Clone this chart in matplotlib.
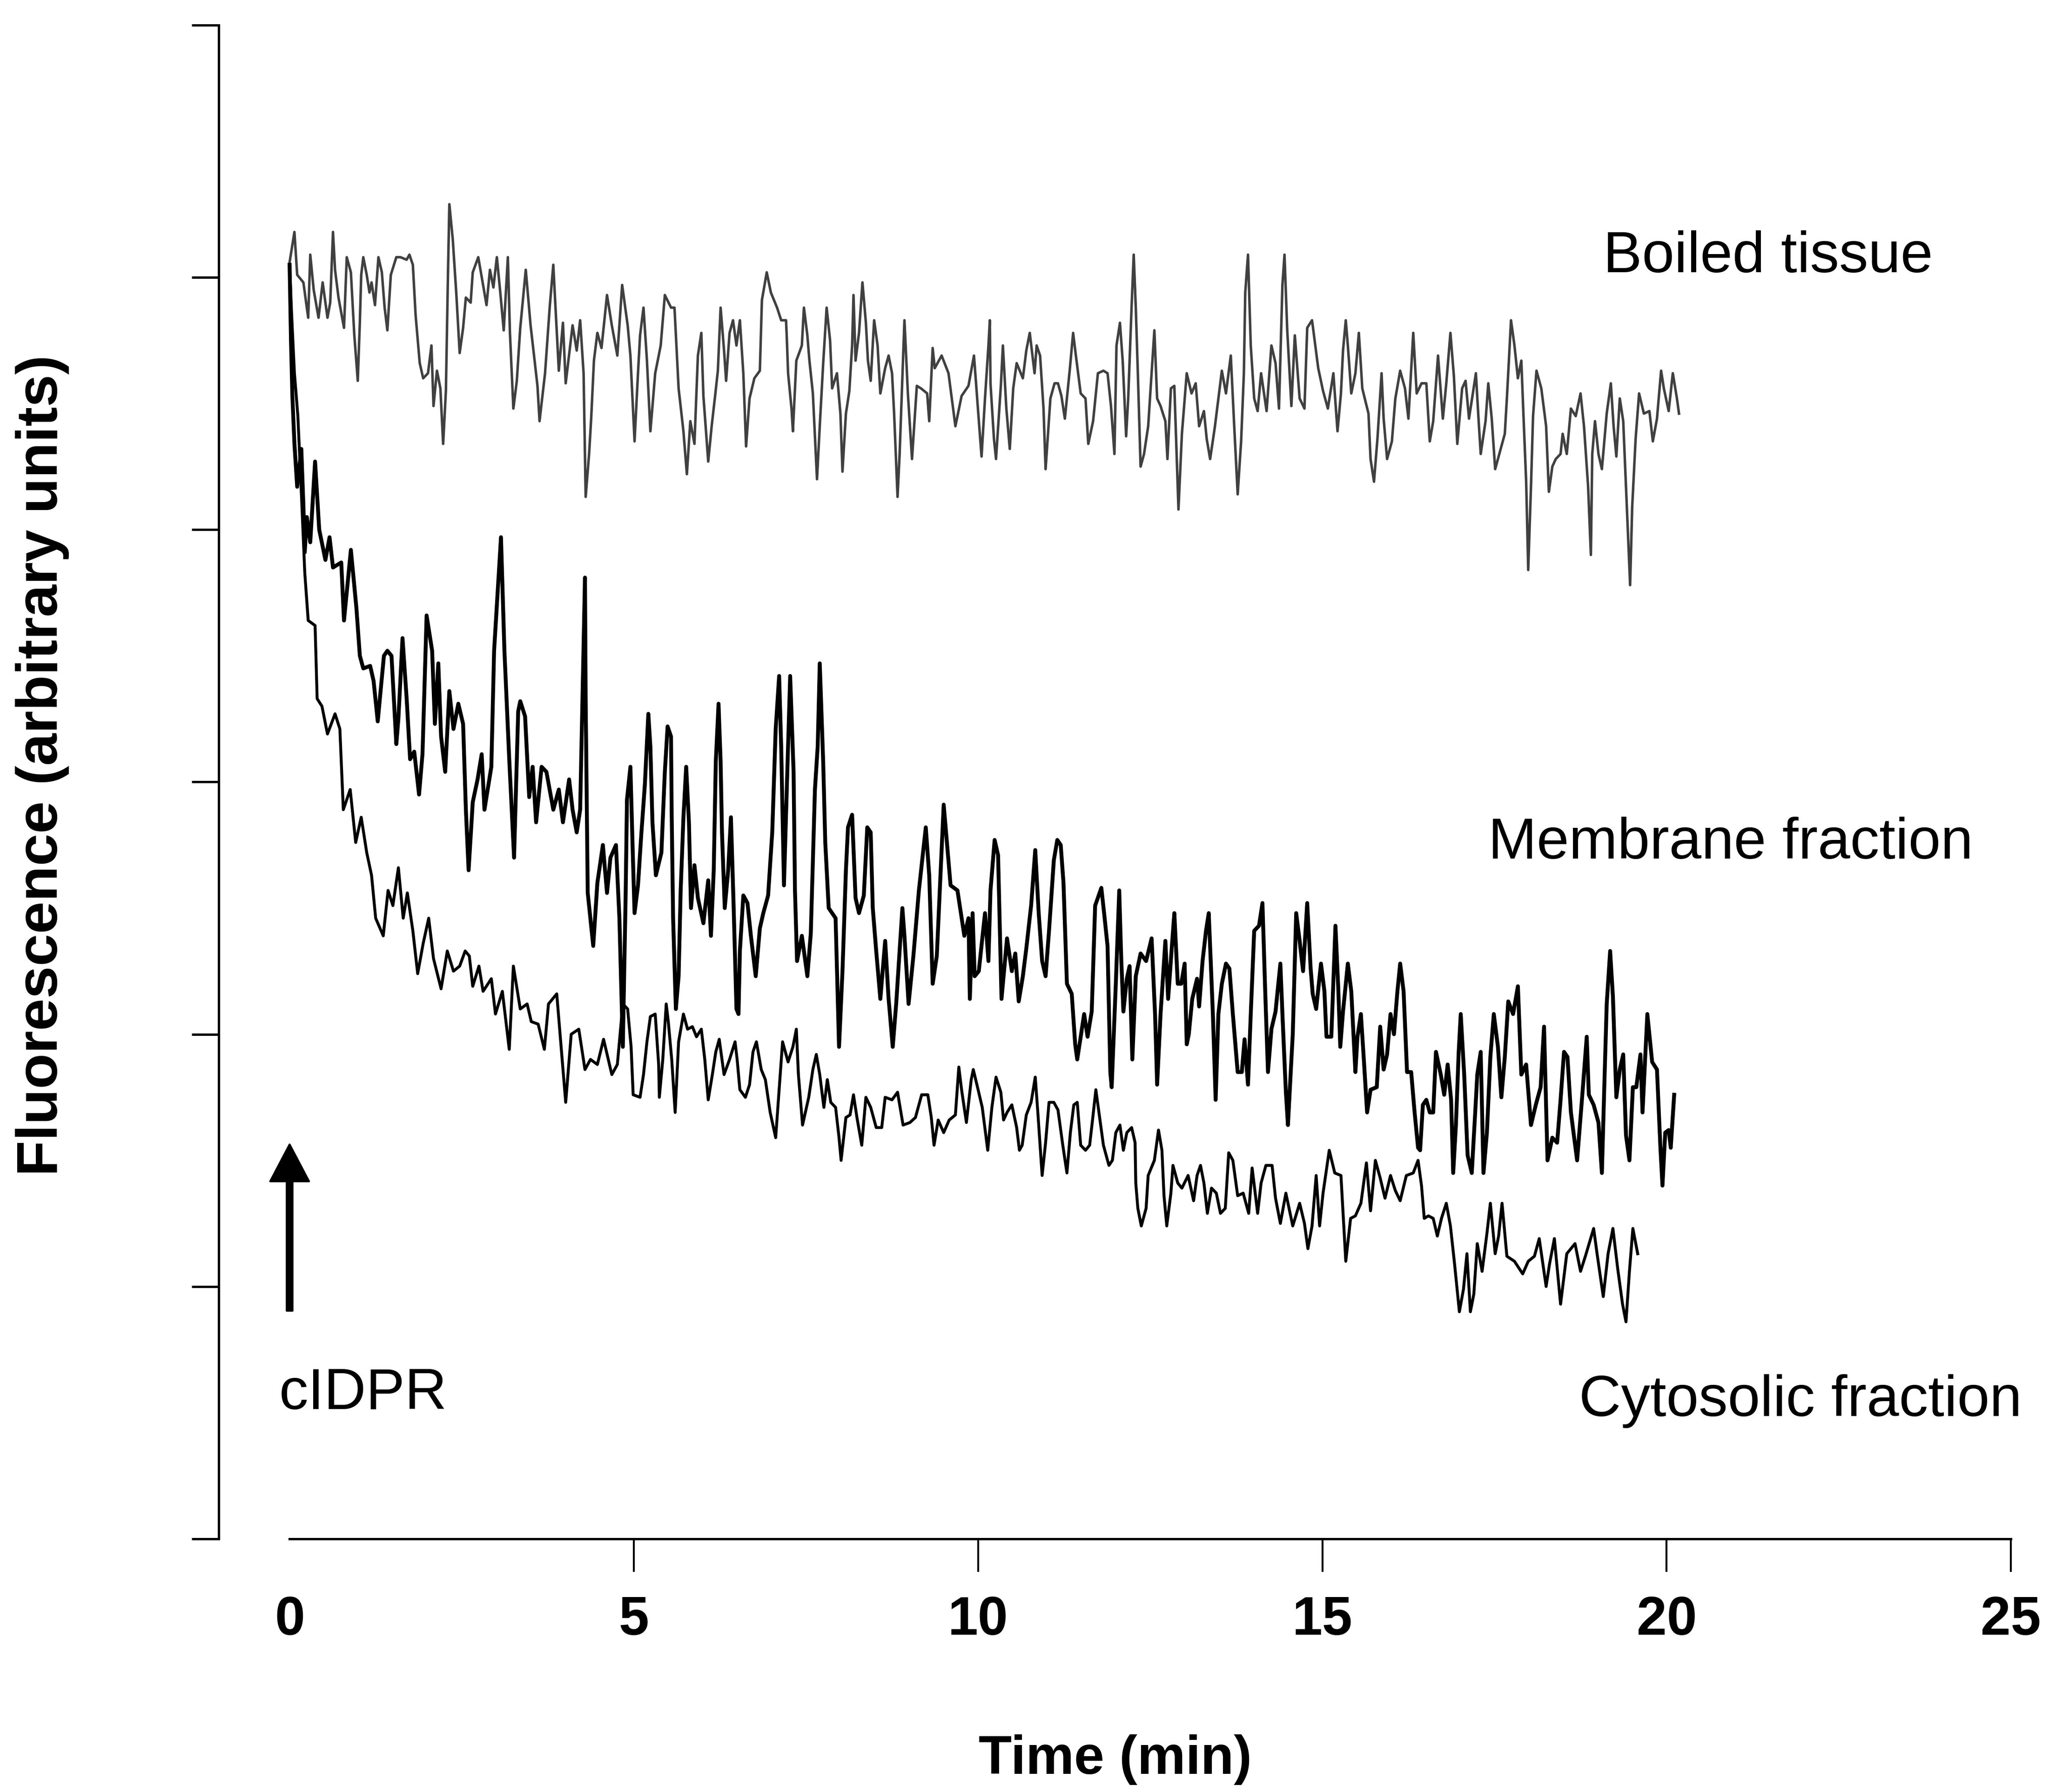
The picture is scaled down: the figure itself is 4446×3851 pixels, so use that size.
import numpy as np
import matplotlib.pyplot as plt

plt.rcParams['font.family'] = ['Liberation Sans', 'DejaVu Sans']

# traces: (time in min, fluorescence in arbitrary units)
boiled_tissue = np.array([
    (0.00, 5.06), (0.07, 5.18), (0.11, 5.01), (0.20, 4.98), (0.27, 4.84), (0.30, 5.09), (0.35, 4.95),
    (0.42, 4.84), (0.48, 4.98), (0.55, 4.84), (0.59, 4.90), (0.63, 5.18), (0.66, 5.03), (0.71, 4.92),
    (0.79, 4.80), (0.83, 5.08), (0.89, 5.02), (0.94, 4.77), (0.99, 4.59), (1.02, 4.82), (1.04, 5.01),
    (1.07, 5.08), (1.12, 5.01), (1.16, 4.94), (1.19, 4.98), (1.24, 4.89), (1.29, 5.08), (1.34, 5.02),
    (1.38, 4.88), (1.42, 4.79), (1.47, 5.01), (1.55, 5.08), (1.61, 5.08), (1.70, 5.07), (1.74, 5.09),
    (1.79, 5.05), (1.83, 4.85), (1.89, 4.66), (1.94, 4.60), (2.01, 4.62), (2.06, 4.73), (2.09, 4.49),
    (2.14, 4.63), (2.19, 4.56), (2.23, 4.34), (2.27, 4.55), (2.30, 5.01), (2.32, 5.29), (2.37, 5.15),
    (2.42, 4.94), (2.47, 4.70), (2.52, 4.80), (2.56, 4.92), (2.63, 4.90), (2.66, 5.02), (2.74, 5.08),
    (2.81, 4.97), (2.86, 4.89), (2.91, 5.03), (2.96, 4.96), (3.01, 5.08), (3.06, 4.94), (3.11, 4.79),
    (3.17, 5.08), (3.20, 4.78), (3.25, 4.48), (3.30, 4.59), (3.35, 4.80), (3.43, 5.03), (3.50, 4.81),
    (3.55, 4.69), (3.60, 4.57), (3.63, 4.43), (3.71, 4.62), (3.78, 4.89), (3.83, 5.05), (3.86, 4.89),
    (3.91, 4.63), (3.97, 4.82), (4.01, 4.58), (4.11, 4.81), (4.17, 4.71), (4.22, 4.83), (4.27, 4.62),
    (4.30, 4.13), (4.35, 4.30), (4.38, 4.44), (4.42, 4.67), (4.47, 4.78), (4.53, 4.72), (4.61, 4.93),
    (4.68, 4.81), (4.76, 4.69), (4.83, 4.97), (4.91, 4.81),
    (4.95, 4.69), (5.01, 4.35), (5.06, 4.62), (5.09, 4.77), (5.14, 4.88), (5.19, 4.67), (5.24, 4.39),
    (5.31, 4.62), (5.39, 4.73), (5.45, 4.93), (5.54, 4.88), (5.59, 4.88), (5.62, 4.72), (5.65, 4.56),
    (5.72, 4.39), (5.77, 4.22), (5.82, 4.43), (5.88, 4.34), (5.93, 4.69), (5.98, 4.78), (6.01, 4.53),
    (6.08, 4.27), (6.13, 4.41), (6.18, 4.53), (6.22, 4.63), (6.26, 4.88), (6.31, 4.71), (6.34, 4.59),
    (6.39, 4.78), (6.44, 4.83), (6.49, 4.73), (6.54, 4.83), (6.59, 4.62), (6.63, 4.33), (6.68, 4.52),
    (6.75, 4.60), (6.83, 4.63), (6.86, 4.91), (6.93, 5.02), (6.99, 4.94), (7.08, 4.88), (7.14, 4.83),
    (7.21, 4.83), (7.22, 4.77), (7.24, 4.62), (7.29, 4.48), (7.31, 4.39), (7.36, 4.67), (7.44, 4.73),
    (7.47, 4.88), (7.52, 4.77), (7.55, 4.67), (7.60, 4.54), (7.66, 4.20), (7.70, 4.41), (7.75, 4.66),
    (7.80, 4.88), (7.85, 4.75), (7.88, 4.56), (7.95, 4.62), (8.00, 4.46), (8.03, 4.23), (8.08, 4.46),
    (8.13, 4.55), (8.17, 4.73), (8.19, 4.93), (8.22, 4.67), (8.27, 4.78), (8.32, 4.98), (8.37, 4.82),
    (8.40, 4.67), (8.44, 4.59), (8.49, 4.83), (8.54, 4.73), (8.58, 4.54), (8.65, 4.64), (8.70, 4.69),
    (8.75, 4.62), (8.78, 4.46), (8.83, 4.13), (8.86, 4.30), (8.90, 4.60), (8.93, 4.83), (8.98, 4.54),
    (9.04, 4.28), (9.11, 4.57), (9.17, 4.56), (9.26, 4.54), (9.29, 4.43), (9.34, 4.72), (9.37, 4.64),
    (9.47, 4.69), (9.57, 4.62), (9.67, 4.41), (9.76, 4.53), (9.86, 4.57), (9.94, 4.69),
    (10.00, 4.47), (10.05, 4.29), (10.10, 4.52), (10.15, 4.73), (10.17, 4.83), (10.18, 4.58), (10.23, 4.36),
    (10.26, 4.28), (10.33, 4.57), (10.36, 4.73), (10.41, 4.48), (10.46, 4.32), (10.51, 4.56), (10.56, 4.66),
    (10.65, 4.60), (10.70, 4.71), (10.75, 4.78), (10.82, 4.62), (10.85, 4.73), (10.90, 4.69), (10.95, 4.48),
    (10.98, 4.24), (11.05, 4.52), (11.11, 4.58), (11.16, 4.58), (11.21, 4.53), (11.26, 4.44), (11.33, 4.63),
    (11.38, 4.78), (11.42, 4.69), (11.49, 4.54), (11.56, 4.52), (11.60, 4.34), (11.67, 4.43), (11.74, 4.62),
    (11.82, 4.63), (11.88, 4.62), (11.93, 4.49), (11.98, 4.30), (12.01, 4.73), (12.06, 4.82), (12.10, 4.67),
    (12.15, 4.37), (12.18, 4.52), (12.23, 4.89), (12.26, 5.09), (12.29, 4.88), (12.32, 4.62), (12.36, 4.25),
    (12.41, 4.30), (12.47, 4.41), (12.52, 4.62), (12.56, 4.79), (12.60, 4.52), (12.65, 4.49), (12.72, 4.43),
    (12.75, 4.28), (12.80, 4.56), (12.85, 4.57), (12.91, 4.08), (12.96, 4.38), (13.03, 4.62), (13.10, 4.54),
    (13.16, 4.58), (13.21, 4.41), (13.28, 4.47), (13.32, 4.36), (13.37, 4.28), (13.44, 4.41), (13.49, 4.52),
    (13.54, 4.63), (13.60, 4.54), (13.67, 4.69), (13.72, 4.41), (13.77, 4.14), (13.82, 4.35), (13.86, 4.62),
    (13.88, 4.94), (13.92, 5.09), (13.96, 4.73), (14.01, 4.52), (14.06, 4.47), (14.11, 4.62), (14.19, 4.47),
    (14.26, 4.73), (14.32, 4.66), (14.37, 4.48), (14.42, 4.97), (14.45, 5.09), (14.49, 4.79), (14.55, 4.49),
    (14.60, 4.77), (14.67, 4.52), (14.74, 4.48), (14.78, 4.80), (14.85, 4.83),
    (14.94, 4.64), (15.01, 4.55), (15.08, 4.48), (15.16, 4.62), (15.22, 4.39), (15.27, 4.54), (15.30, 4.71),
    (15.34, 4.83), (15.37, 4.73), (15.42, 4.54), (15.48, 4.62), (15.53, 4.78), (15.58, 4.56), (15.67, 4.46),
    (15.70, 4.28), (15.75, 4.19), (15.80, 4.36), (15.86, 4.62), (15.89, 4.44), (15.94, 4.28), (16.01, 4.35),
    (16.06, 4.52), (16.13, 4.63), (16.20, 4.56), (16.25, 4.44), (16.32, 4.78), (16.37, 4.54), (16.44, 4.58),
    (16.51, 4.58), (16.56, 4.35), (16.61, 4.43), (16.68, 4.69), (16.75, 4.44), (16.80, 4.58), (16.86, 4.78),
    (16.91, 4.61), (16.96, 4.34), (17.03, 4.56), (17.08, 4.59), (17.13, 4.44), (17.23, 4.62), (17.27, 4.43),
    (17.30, 4.30), (17.37, 4.43), (17.41, 4.58), (17.46, 4.44), (17.51, 4.24), (17.58, 4.31), (17.65, 4.38),
    (17.68, 4.52), (17.74, 4.83), (17.79, 4.73), (17.84, 4.60), (17.89, 4.67), (17.92, 4.46), (17.96, 4.19),
    (17.99, 3.84), (18.03, 4.17), (18.06, 4.45), (18.11, 4.63), (18.18, 4.56), (18.25, 4.41), (18.29, 4.15),
    (18.34, 4.25), (18.39, 4.28), (18.46, 4.30), (18.49, 4.38), (18.55, 4.30), (18.61, 4.48), (18.68, 4.45),
    (18.75, 4.54), (18.80, 4.41), (18.86, 4.17), (18.90, 3.90), (18.92, 4.30), (18.96, 4.43), (19.01, 4.30),
    (19.06, 4.24), (19.13, 4.46), (19.19, 4.58), (19.23, 4.41), (19.27, 4.29), (19.32, 4.52), (19.37, 4.43),
    (19.43, 4.04), (19.47, 3.78), (19.50, 4.09), (19.55, 4.36), (19.60, 4.54), (19.67, 4.46), (19.75, 4.47),
    (19.80, 4.35), (19.86, 4.44), (19.92, 4.63), (19.96, 4.56), (20.03, 4.47), (20.09, 4.62), (20.15, 4.52),
    (20.18, 4.46),
])

membrane_fraction = np.array([
    (0.00, 5.05), (0.02, 4.75), (0.04, 4.53), (0.07, 4.34), (0.11, 4.17), (0.17, 4.32), (0.20, 4.10),
    (0.22, 3.91), (0.25, 4.05), (0.30, 3.95), (0.37, 4.27), (0.43, 4.00), (0.52, 3.88), (0.58, 3.97),
    (0.63, 3.85), (0.75, 3.87), (0.79, 3.64), (0.89, 3.92), (0.97, 3.69), (1.02, 3.50), (1.07, 3.45),
    (1.17, 3.46), (1.22, 3.40), (1.28, 3.24), (1.37, 3.50), (1.42, 3.52), (1.48, 3.50), (1.55, 3.15),
    (1.58, 3.25), (1.64, 3.57), (1.70, 3.33), (1.75, 3.09), (1.81, 3.12), (1.88, 2.95), (1.93, 3.11),
    (1.99, 3.66), (2.07, 3.52), (2.11, 3.23), (2.16, 3.47), (2.20, 3.18), (2.26, 3.04), (2.32, 3.36),
    (2.38, 3.21), (2.45, 3.31), (2.52, 3.23), (2.56, 2.89), (2.60, 2.65), (2.66, 2.92), (2.73, 3.01),
    (2.79, 3.11), (2.83, 2.89), (2.93, 3.06), (2.97, 3.52), (3.07, 3.97), (3.12, 3.52), (3.19, 3.09),
    (3.26, 2.70), (3.32, 3.28), (3.35, 3.32), (3.42, 3.26), (3.48, 2.94), (3.53, 3.06), (3.58, 2.84),
    (3.66, 3.06), (3.73, 3.04), (3.83, 2.89), (3.91, 2.97), (3.97, 2.84), (4.06, 3.01), (4.11, 2.89),
    (4.17, 2.80), (4.22, 2.89), (4.29, 3.81), (4.30, 3.33), (4.33, 2.56), (4.41, 2.35), (4.47, 2.60),
    (4.55, 2.75), (4.61, 2.56), (4.66, 2.70), (4.74, 2.75), (4.79, 2.46), (4.84, 1.95),
    (4.88, 2.54), (4.90, 2.93), (4.95, 3.06), (4.98, 2.76), (5.01, 2.48), (5.06, 2.59), (5.11, 2.80),
    (5.16, 2.99), (5.21, 3.27), (5.24, 3.14), (5.27, 2.84), (5.32, 2.63), (5.40, 2.72), (5.45, 3.04),
    (5.49, 3.22), (5.54, 3.18), (5.55, 2.86), (5.57, 2.46), (5.61, 2.10), (5.65, 2.23), (5.68, 2.57),
    (5.72, 2.86), (5.76, 3.06), (5.80, 2.84), (5.83, 2.50), (5.88, 2.67), (5.93, 2.54), (6.01, 2.44),
    (6.08, 2.61), (6.12, 2.39), (6.16, 2.65), (6.19, 3.08), (6.23, 3.31), (6.26, 3.08), (6.28, 2.80),
    (6.32, 2.50), (6.37, 2.65), (6.41, 2.86), (6.45, 2.50), (6.49, 2.10), (6.52, 2.08), (6.54, 2.33),
    (6.59, 2.55), (6.65, 2.52), (6.70, 2.39), (6.77, 2.23), (6.83, 2.42), (6.88, 2.48), (6.95, 2.55),
    (7.01, 2.80), (7.06, 3.21), (7.11, 3.42), (7.14, 3.14), (7.18, 2.59), (7.24, 3.14), (7.27, 3.42),
    (7.32, 3.04), (7.34, 2.57), (7.37, 2.29), (7.44, 2.39), (7.52, 2.23), (7.57, 2.40), (7.63, 2.97),
    (7.67, 3.14), (7.70, 3.47), (7.75, 3.08), (7.78, 2.76), (7.83, 2.50), (7.93, 2.46), (7.98, 1.95),
    (8.03, 2.25), (8.08, 2.65), (8.11, 2.82), (8.17, 2.87), (8.22, 2.54), (8.27, 2.48), (8.34, 2.55),
    (8.39, 2.82), (8.44, 2.80), (8.47, 2.50), (8.52, 2.33), (8.58, 2.14), (8.65, 2.37), (8.70, 2.14),
    (8.76, 1.95), (8.81, 2.12), (8.90, 2.50), (8.93, 2.39), (8.99, 2.12), (9.06, 2.31), (9.14, 2.57),
    (9.24, 2.82), (9.29, 2.63), (9.34, 2.20), (9.40, 2.31), (9.50, 2.91), (9.60, 2.59), (9.70, 2.57),
    (9.80, 2.39), (9.86, 2.46),
    (9.88, 2.14), (9.92, 2.48), (9.95, 2.23), (10.01, 2.25), (10.10, 2.48), (10.15, 2.29), (10.18, 2.57),
    (10.24, 2.77), (10.29, 2.71), (10.34, 2.14), (10.38, 2.26), (10.42, 2.38), (10.49, 2.25), (10.54, 2.32),
    (10.59, 2.13), (10.65, 2.23), (10.70, 2.34), (10.77, 2.51), (10.83, 2.73), (10.88, 2.48), (10.93, 2.29),
    (10.98, 2.23), (11.03, 2.41), (11.10, 2.69), (11.15, 2.77), (11.20, 2.75), (11.24, 2.60), (11.29, 2.20),
    (11.36, 2.16), (11.41, 1.96), (11.44, 1.90), (11.49, 1.99), (11.54, 2.08), (11.59, 1.99), (11.65, 2.09),
    (11.70, 2.51), (11.79, 2.58), (11.83, 2.48), (11.88, 2.35), (11.92, 1.85), (11.94, 1.79), (12.00, 2.20),
    (12.05, 2.57), (12.08, 2.29), (12.11, 2.09), (12.16, 2.22), (12.20, 2.27), (12.24, 1.90), (12.29, 2.23),
    (12.36, 2.32), (12.44, 2.29), (12.52, 2.38), (12.57, 2.08), (12.60, 1.80), (12.65, 2.08), (12.72, 2.37),
    (12.76, 2.14), (12.82, 2.37), (12.85, 2.48), (12.90, 2.20), (12.95, 2.20), (13.00, 2.28), (13.03, 1.96),
    (13.06, 2.00), (13.11, 2.14), (13.18, 2.22), (13.21, 2.11), (13.26, 2.29), (13.31, 2.41), (13.35, 2.48),
    (13.41, 2.08), (13.45, 1.74), (13.49, 2.08), (13.54, 2.20), (13.60, 2.28), (13.65, 2.26), (13.70, 2.08),
    (13.77, 1.85), (13.83, 1.85), (13.87, 1.98), (13.92, 1.80), (13.96, 2.08), (14.01, 2.41), (14.08, 2.43),
    (14.13, 2.52), (14.17, 2.17), (14.21, 1.85), (14.26, 2.02), (14.32, 2.09), (14.39, 2.28), (14.42, 2.08),
    (14.47, 1.77), (14.50, 1.64), (14.57, 2.00), (14.62, 2.48), (14.67, 2.37), (14.72, 2.25), (14.78, 2.52),
    (14.83, 2.26),
    (14.86, 2.16), (14.91, 2.10), (14.98, 2.28), (15.03, 2.17), (15.06, 1.99), (15.13, 1.99), (15.19, 2.43),
    (15.23, 2.19), (15.26, 1.95), (15.30, 2.09), (15.37, 2.28), (15.42, 2.17), (15.48, 1.85), (15.51, 1.99),
    (15.56, 2.08), (15.60, 1.91), (15.65, 1.69), (15.70, 1.78), (15.79, 1.79), (15.84, 2.03), (15.89, 1.86),
    (15.94, 1.92), (15.99, 2.08), (16.04, 2.00), (16.09, 2.17), (16.13, 2.28), (16.18, 2.17), (16.23, 1.85),
    (16.29, 1.85), (16.34, 1.69), (16.39, 1.55), (16.42, 1.54), (16.46, 1.72), (16.51, 1.74), (16.56, 1.69),
    (16.61, 1.69), (16.65, 1.93), (16.72, 1.84), (16.77, 1.76), (16.82, 1.88), (16.87, 1.74), (16.90, 1.45),
    (16.94, 1.64), (16.98, 1.93), (17.01, 2.08), (17.06, 1.84), (17.11, 1.52), (17.17, 1.45), (17.22, 1.69),
    (17.25, 1.84), (17.30, 1.93), (17.34, 1.45), (17.39, 1.61), (17.44, 1.91), (17.49, 2.08), (17.55, 1.95),
    (17.60, 1.75), (17.65, 1.91), (17.70, 2.13), (17.77, 2.08), (17.84, 2.19), (17.89, 1.84), (17.96, 1.88),
    (18.03, 1.64), (18.10, 1.72), (18.17, 1.79), (18.22, 2.03), (18.27, 1.50), (18.34, 1.59), (18.41, 1.57),
    (18.46, 1.74), (18.51, 1.93), (18.56, 1.91), (18.61, 1.69), (18.70, 1.50), (18.77, 1.74), (18.84, 1.99),
    (18.87, 1.76), (18.94, 1.72), (19.01, 1.65), (19.06, 1.45), (19.10, 1.84), (19.13, 2.12), (19.18, 2.33),
    (19.22, 2.15), (19.27, 1.75), (19.32, 1.86), (19.37, 1.92), (19.41, 1.60), (19.46, 1.50), (19.51, 1.79),
    (19.56, 1.79), (19.62, 1.92), (19.65, 1.69), (19.72, 2.08), (19.79, 1.89), (19.86, 1.86), (19.91, 1.55),
    (19.94, 1.40), (19.98, 1.61), (20.03, 1.62), (20.06, 1.55), (20.11, 1.76),
])

cytosolic_fraction = np.array([
    (0.00, 5.05), (0.03, 4.85), (0.07, 4.62), (0.12, 4.45), (0.17, 4.15), (0.22, 3.83), (0.27, 3.64),
    (0.37, 3.62), (0.40, 3.33), (0.47, 3.30), (0.55, 3.19), (0.66, 3.27), (0.73, 3.21), (0.78, 2.89),
    (0.88, 2.97), (0.96, 2.76), (1.04, 2.86), (1.12, 2.72), (1.19, 2.63), (1.25, 2.46), (1.36, 2.39),
    (1.43, 2.57), (1.50, 2.51), (1.58, 2.66), (1.65, 2.46), (1.71, 2.56), (1.79, 2.41), (1.86, 2.24),
    (1.94, 2.36), (2.02, 2.46), (2.09, 2.30), (2.20, 2.18), (2.29, 2.33), (2.38, 2.25), (2.47, 2.27),
    (2.55, 2.33), (2.61, 2.31), (2.66, 2.19), (2.75, 2.27), (2.81, 2.17), (2.93, 2.22), (2.99, 2.08),
    (3.09, 2.17), (3.19, 1.94), (3.25, 2.27), (3.35, 2.10), (3.45, 2.12), (3.51, 2.05), (3.61, 2.04),
    (3.70, 1.94), (3.76, 2.12), (3.88, 2.16), (4.01, 1.73), (4.09, 2.00), (4.20, 2.02), (4.29, 1.86),
    (4.37, 1.90), (4.47, 1.88), (4.56, 1.98), (4.68, 1.84), (4.76, 1.88), (4.84, 2.12),
    (4.91, 2.10), (4.96, 1.95), (4.99, 1.76), (5.09, 1.75), (5.14, 1.84), (5.19, 1.97), (5.24, 2.07),
    (5.31, 2.08), (5.36, 1.88), (5.37, 1.75), (5.42, 1.90), (5.47, 2.12), (5.50, 2.05), (5.55, 1.90),
    (5.60, 1.69), (5.65, 1.97), (5.72, 2.08), (5.78, 2.02), (5.85, 2.03), (5.91, 1.99), (5.98, 2.02),
    (6.03, 1.90), (6.08, 1.74), (6.14, 1.84), (6.19, 1.93), (6.24, 1.98), (6.31, 1.84), (6.39, 1.90),
    (6.47, 1.97), (6.50, 1.90), (6.54, 1.78), (6.62, 1.75), (6.68, 1.80), (6.73, 1.93), (6.78, 1.97),
    (6.85, 1.86), (6.91, 1.82), (6.98, 1.69), (7.06, 1.59), (7.11, 1.78), (7.16, 1.97), (7.24, 1.89),
    (7.31, 1.95), (7.36, 2.02), (7.39, 1.84), (7.45, 1.64), (7.54, 1.75), (7.60, 1.86), (7.65, 1.92),
    (7.70, 1.84), (7.76, 1.71), (7.81, 1.82), (7.86, 1.73), (7.93, 1.71), (7.98, 1.59), (8.01, 1.50),
    (8.08, 1.67), (8.14, 1.68), (8.19, 1.76), (8.24, 1.67), (8.31, 1.56), (8.37, 1.75), (8.44, 1.71),
    (8.52, 1.63), (8.60, 1.63), (8.65, 1.75), (8.75, 1.74), (8.83, 1.77), (8.91, 1.64), (9.01, 1.65),
    (9.09, 1.67), (9.18, 1.76), (9.27, 1.76), (9.32, 1.67), (9.36, 1.56), (9.42, 1.66), (9.50, 1.61),
    (9.58, 1.66), (9.67, 1.68), (9.72, 1.87), (9.76, 1.78), (9.83, 1.65),
    (9.90, 1.82), (9.93, 1.86), (10.00, 1.78), (10.06, 1.71), (10.14, 1.54), (10.20, 1.71), (10.26, 1.83),
    (10.33, 1.77), (10.37, 1.66), (10.42, 1.69), (10.49, 1.72), (10.56, 1.63), (10.60, 1.54), (10.64, 1.56),
    (10.70, 1.68), (10.77, 1.73), (10.83, 1.83), (10.87, 1.68), (10.93, 1.44), (10.98, 1.57), (11.03, 1.73),
    (11.10, 1.73), (11.16, 1.70), (11.23, 1.56), (11.29, 1.45), (11.34, 1.61), (11.39, 1.72), (11.44, 1.73),
    (11.49, 1.56), (11.56, 1.54), (11.62, 1.56), (11.67, 1.68), (11.71, 1.78), (11.75, 1.70), (11.82, 1.56),
    (11.90, 1.48), (11.95, 1.50), (12.00, 1.61), (12.06, 1.64), (12.11, 1.54), (12.16, 1.61), (12.23, 1.63),
    (12.28, 1.57), (12.29, 1.41), (12.32, 1.31), (12.37, 1.24), (12.44, 1.31), (12.47, 1.44), (12.56, 1.50),
    (12.62, 1.62), (12.67, 1.54), (12.70, 1.36), (12.74, 1.24), (12.80, 1.37), (12.83, 1.48), (12.90, 1.41),
    (12.96, 1.39), (13.05, 1.44), (13.13, 1.34), (13.18, 1.44), (13.23, 1.48), (13.28, 1.41), (13.33, 1.29),
    (13.39, 1.39), (13.46, 1.37), (13.52, 1.29), (13.59, 1.31), (13.64, 1.53), (13.70, 1.50), (13.77, 1.36),
    (13.85, 1.37), (13.93, 1.29), (13.98, 1.47), (14.06, 1.29), (14.11, 1.41), (14.18, 1.48), (14.27, 1.48),
    (14.32, 1.35), (14.39, 1.25), (14.47, 1.37), (14.57, 1.24), (14.67, 1.33), (14.74, 1.25), (14.79, 1.15),
    (14.85, 1.24),
    (14.91, 1.44), (14.96, 1.24), (15.01, 1.37), (15.10, 1.54), (15.18, 1.45), (15.27, 1.44), (15.34, 1.10),
    (15.41, 1.27), (15.48, 1.28), (15.56, 1.33), (15.64, 1.49), (15.70, 1.30), (15.77, 1.50), (15.84, 1.43),
    (15.91, 1.35), (15.99, 1.44), (16.06, 1.38), (16.13, 1.34), (16.22, 1.44), (16.32, 1.45), (16.39, 1.50),
    (16.44, 1.40), (16.48, 1.27), (16.54, 1.28), (16.61, 1.27), (16.67, 1.20), (16.73, 1.27), (16.80, 1.33),
    (16.86, 1.24), (16.92, 1.09), (16.99, 0.90), (17.05, 0.99), (17.10, 1.13), (17.15, 0.90), (17.20, 0.97),
    (17.25, 1.17), (17.32, 1.06), (17.39, 1.21), (17.44, 1.33), (17.51, 1.13), (17.56, 1.20), (17.61, 1.33),
    (17.68, 1.12), (17.79, 1.10), (17.91, 1.05), (17.99, 1.10), (18.08, 1.12), (18.15, 1.19), (18.25, 1.00),
    (18.30, 1.09), (18.37, 1.19), (18.46, 0.93), (18.55, 1.13), (18.67, 1.17), (18.75, 1.06), (18.82, 1.12),
    (18.94, 1.23), (18.99, 1.13), (19.08, 0.96), (19.15, 1.13), (19.22, 1.23), (19.29, 1.07), (19.36, 0.93),
    (19.41, 0.86), (19.46, 1.06), (19.51, 1.23), (19.58, 1.13),
])

x_ticks = [0, 5, 10, 15, 20, 25]
y_ticks = [0, 1, 2, 3, 4, 5, 6]

fig = plt.figure(figsize=(4446 / 300, 3851 / 300), dpi=300)
ax = fig.add_axes([0.1057, 0.1413, 0.8662, 0.8447])

ax.plot(boiled_tissue[:, 0], boiled_tissue[:, 1], color='0.25', lw=1.3)
ax.plot(cytosolic_fraction[:, 0], cytosolic_fraction[:, 1], color='black', lw=1.5)
ax.plot(membrane_fraction[:, 0], membrane_fraction[:, 1], color='black', lw=2.0)

ax.set_xlim(-1.03, 25)
ax.set_ylim(0, 6)
ax.spines['top'].set_visible(False)
ax.spines['right'].set_visible(False)
ax.spines['bottom'].set_bounds(0, 25)
ax.spines['left'].set_linewidth(1.2)
ax.spines['bottom'].set_linewidth(1.2)

ax.set_xticks(x_ticks)
ax.set_yticks(y_ticks)
ax.set_yticklabels([])
ax.tick_params(axis='x', length=17, width=1, pad=12, labelsize=28)
ax.tick_params(axis='y', length=14, width=1.2)
for lab in ax.get_xticklabels():
    lab.set_fontweight('bold')
ax.xaxis.get_major_ticks()[0].tick1line.set_visible(False)

# labels
fig.text(0.539, 0.018, 'Time (min)', fontsize=28, fontweight='bold', ha='center', va='center')
fig.text(0.0205, 0.573, 'Fluorescence (arbitrary units)', fontsize=30, fontweight='bold',
         rotation=90, ha='center', va='center')

ax.text(19.08, 5.08, 'Boiled tissue', fontsize=30, ha='left', va='center')
ax.text(17.41, 2.755, 'Membrane fraction', fontsize=30, ha='left', va='center')
ax.text(18.73, 0.546, 'Cytosolic fraction', fontsize=30, ha='left', va='center')
ax.text(-0.155, 0.574, 'cIDPR', fontsize=30, ha='left', va='center')

ax.annotate('', xy=(0, 1.563), xytext=(0, 0.904),
            arrowprops=dict(facecolor='black', edgecolor='black', width=3, headwidth=20,
                            headlength=19, shrink=0))

fig.savefig('out.png', dpi=300)
